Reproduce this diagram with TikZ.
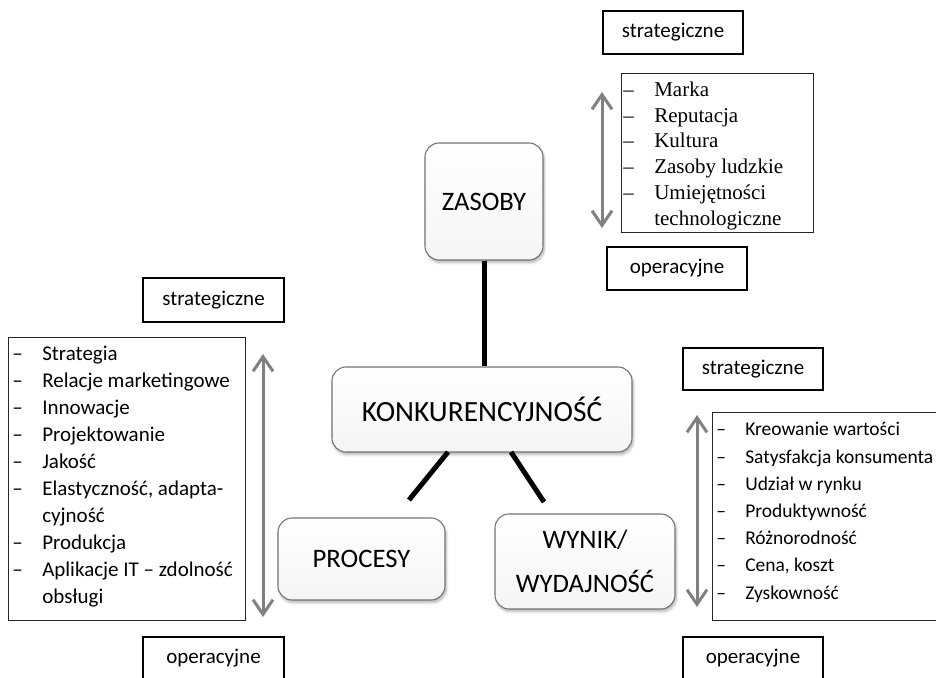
\documentclass[tikz,border=0pt]{standalone}
\usepackage{fontspec}
\setmainfont{Carlito}
\newfontfamily\serifface{Liberation Serif}
\usetikzlibrary{arrows.meta,shadows.blur}

% one list line: dash in a fixed-width slot, then the text
\newcommand\dashitem[2]{\strut\makebox[#1][l]{–}#2}
% continuation line, indented to the text column
\newcommand\contline[2]{\strut\hspace*{#1}#2}

\begin{document}
\begin{tikzpicture}[x=0.75pt,y=-0.75pt,
  levelbox/.style={draw=black,line width=0.9pt,inner sep=0pt,
    minimum width=105pt,minimum height=32.25pt,
    font=\fontsize{15.75}{19}\selectfont},
  listbox/.style={draw=black!85,line width=0.9pt,inner sep=0pt,anchor=north west},
  listtext/.style={inner sep=0pt,anchor=north west,align=left},
  topic/.style={draw=black!55,line width=0.8pt,rounded corners=10.5pt,
    top color=white,bottom color=black!4,
    blur shadow={shadow xshift=1pt,shadow yshift=-2pt,shadow blur steps=6,shadow opacity=30},
    font=\fontsize{20}{33}\selectfont,align=center,inner sep=0pt},
  bondline/.style={line width=3.75pt,black},
  rangearrow/.style={draw=black!50,line width=2.25pt,
    {Straight Barb[length=11pt,width=15pt]}-{Straight Barb[length=11pt,width=15pt]}}
]
\useasboundingbox (0,0) rectangle (936,678);
\clip (0,0) rectangle (936,678);

% central topics
\node[topic,minimum width=88.5pt,minimum height=87.75pt] (zasoby) at (484,201.5) {ZASOBY};
\node[topic,minimum width=225pt,minimum height=63.75pt,font=\fontsize{22}{33}\selectfont] (konk) at (482,409.5) {KONKURENCYJNOŚĆ};
\node[topic,minimum width=125.25pt,minimum height=61.5pt] (procesy) at (361.5,559) {PROCESY};
\node[topic,minimum width=135pt,minimum height=71.25pt] (wynik) at (585,561.5) {WYNIK/\\WYDAJNOŚĆ};

% links between topics
\coordinate (kl) at (448,452);
\coordinate (pl) at (409,500);
\coordinate (kr) at (511,452);
\coordinate (wr) at (544,502);
\draw[bondline] (zasoby.south) -- (zasoby.south |- konk.north);
\draw[bondline] (kl) -- (pl);
\draw[bondline] (kr) -- (wr);

% strategic / operational level labels
\node[levelbox] (strat1) at (673,32.5) {strategiczne};
\node[levelbox] (oper1) at (677,268.5) {operacyjne};
\node[levelbox,minimum width=105.75pt,minimum height=33pt] (strat2) at (213.5,300) {strategiczne};
\node[levelbox,minimum width=105.75pt] (oper2) at (213.5,658.5) {operacyjne};
\node[levelbox,minimum height=31.5pt] (strat3) at (753,369) {strategiczne};
\node[levelbox] (oper3) at (753,658.5) {operacyjne};

% resources list
\node[listbox,minimum width=144pt,minimum height=119.25pt] (reslist) at (621,73) {};
\node[listtext,font=\serifface\fontsize{15.75}{19.35}\selectfont] (restext) at (623,78) {%
  \dashitem{23.25pt}{Marka}\\
  \dashitem{23.25pt}{Reputacja}\\
  \dashitem{23.25pt}{Kultura}\\
  \dashitem{23.25pt}{Zasoby ludzkie}\\
  \dashitem{23.25pt}{Umiejętności}\\
  \contline{23.25pt}{technologiczne}};

% processes list
\node[listbox,minimum width=177.75pt,minimum height=212.25pt] (proclist) at (8,337) {};
\node[listtext,font=\fontsize{15.75}{20.3}\selectfont] (proctext) at (12,341) {%
  \dashitem{22.5pt}{Strategia}\\
  \dashitem{22.5pt}{Relacje marketingowe}\\
  \dashitem{22.5pt}{Innowacje}\\
  \dashitem{22.5pt}{Projektowanie}\\
  \dashitem{22.5pt}{Jakość}\\
  \dashitem{22.5pt}{Elastyczność, adapta-}\\
  \contline{22.5pt}{cyjność}\\
  \dashitem{22.5pt}{Produkcja}\\
  \dashitem{22.5pt}{Aplikacje IT – zdolność}\\
  \contline{22.5pt}{obsługi}};

% performance list
\node[listbox,minimum width=201pt,minimum height=156pt] (perflist) at (712,412) {};
\node[listtext,font=\fontsize{14.6}{20.4}\selectfont] (perftext) at (716,416.5) {%
  \dashitem{21.75pt}{Kreowanie wartości}\\
  \dashitem{21.75pt}{Satysfakcja konsumenta}\\
  \dashitem{21.75pt}{Udział w rynku}\\
  \dashitem{21.75pt}{Produktywność}\\
  \dashitem{21.75pt}{Różnorodność}\\
  \dashitem{21.75pt}{Cena, koszt}\\
  \dashitem{21.75pt}{Zyskowność}};

% strategic-operational range arrows
\coordinate (r1t) at (602,92);
\coordinate (r1b) at (602,228);
\coordinate (r2t) at (263,354);
\coordinate (r2b) at (263,617);
\coordinate (r3t) at (697,415);
\coordinate (r3b) at (697,607);
\draw[rangearrow] (r1t) -- (r1b);
\draw[rangearrow] (r2t) -- (r2b);
\draw[rangearrow] (r3t) -- (r3b);
\end{tikzpicture}
\end{document}
